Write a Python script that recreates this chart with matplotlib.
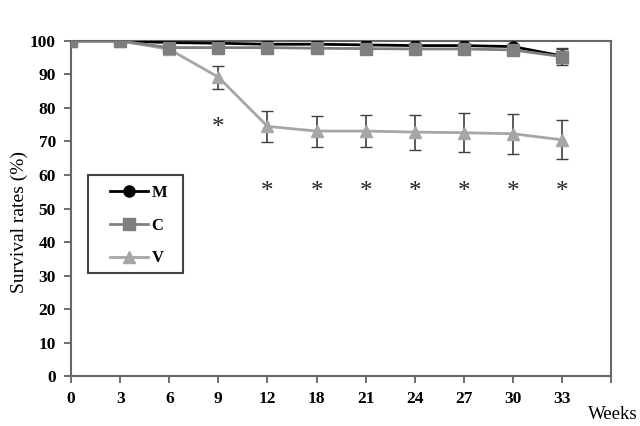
import matplotlib.pyplot as plt
from matplotlib.lines import Line2D
from matplotlib.patches import Rectangle
import numpy as np

# Données
weeks = ['0', '3', '6', '9', '12', '18', '21', '24', '27', '30', '33']
m_vals = [100, 100, 99.5, 99.3, 99.0, 99.0, 98.8, 98.6, 98.6, 98.3, 95.5]
m_err = [0, 0, 0, 0, 0, 0, 0, 0, 0, 0, 2.0]
c_vals = [100, 100, 98.0, 98.0, 98.0, 97.8, 97.7, 97.6, 97.6, 97.3, 95.3]
c_err = [0, 0, 0, 0, 0, 0, 0, 0, 0, 0, 2.5]
v_vals = [100, 100, 97.5, 89.2, 74.5, 73.1, 73.1, 72.8, 72.6, 72.3, 70.5]
v_err = [0, 0, 0, 3.4, 4.7, 4.6, 4.8, 5.2, 5.8, 5.9, 5.8]
star_weeks = ['9', '12', '18', '21', '24', '27', '30', '33']
star_y = [74, 55, 55, 55, 55, 55, 55, 55]

plt.rcParams['font.family'] = ['Liberation Serif', 'DejaVu Serif']

fig = plt.figure(figsize=(6.4, 4.26), dpi=100)
ax = fig.add_axes([0.111, 0.117, 0.844, 0.787])

x = np.arange(len(weeks))
series = [
    ('V', v_vals, v_err, '#a6a6a6', '^', 9, 2),
    ('C', c_vals, c_err, '#7f7f7f', 's', 8, 3),
    ('M', m_vals, m_err, '#000000', 'o', 8, 2.5),
]
for name, vals, err, col, mk, ms, z in series:
    ax.errorbar(x, vals, yerr=err, color=col, ecolor='#404040', elinewidth=1.2,
                capsize=4, marker=mk, markersize=ms, linewidth=2, zorder=z)

for w, y in zip(star_weeks, star_y):
    ax.text(weeks.index(w), y, '*', ha='center', va='center', fontsize=18, color='#222222')

ax.set_xlim(0, 11)
ax.set_ylim(0, 100)
ax.set_xticks(np.arange(12))
ax.set_xticklabels(weeks + [''])
ax.set_yticks(np.arange(0, 101, 10))
ax.tick_params(axis='both', labelsize=12.5, color='#555555', length=5, width=1.2)
ax.tick_params(axis='x', pad=6)
ax.tick_params(axis='y', pad=6)
for lab in ax.get_xticklabels() + ax.get_yticklabels():
    lab.set_fontweight('bold')
for s in ax.spines.values():
    s.set_color('#666666')
    s.set_linewidth(1.5)

ax.set_ylabel('Survival rates (%)', fontsize=14)
ax.yaxis.set_label_coords(-0.08, 0.46)
fig.text(0.919, 0.016, 'Weeks', fontsize=13.5, va='baseline')

# cadre de la légende dessiné à part
ax.add_patch(Rectangle((0.0315, 0.307), 0.176, 0.293, transform=ax.transAxes,
                       fill=False, edgecolor='#444444', linewidth=1.5, zorder=5))
handles = [Line2D([], [], color=col, marker=mk, markersize=ms, linewidth=2)
           for name, vals, err, col, mk, ms, z in series[::-1]]
labels = [s[0] for s in series[::-1]]
ax.legend(handles, labels, loc='upper left', bbox_to_anchor=(0.072, 0.57),
          frameon=False, borderpad=0, labelspacing=1.0, handlelength=2.3,
          handletextpad=0.2, borderaxespad=0, prop={'size': 12, 'weight': 'bold'})

fig.savefig('out.png', dpi=100)
